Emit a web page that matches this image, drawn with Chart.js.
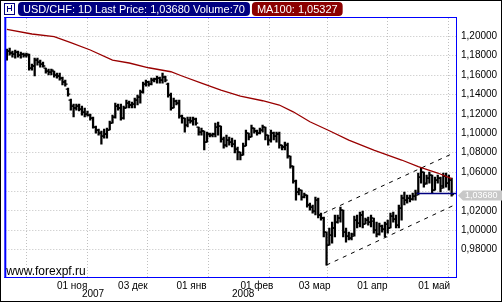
<!DOCTYPE html>
<html>
<head>
<meta charset="utf-8">
<script src="https://cdn.jsdelivr.net/npm/chart.js@4.4.0/dist/chart.umd.min.js"></script>
<style>
  html, body { margin: 0; padding: 0; background: #fff; }
  canvas { display: block; }
</style>
</head>
<body>
<canvas id="chart" width="502" height="302"></canvas>
<script>
// USD/CHF daily bars, one entry per trading day (index 0 = 8 Oct 2007)
const openPrices = [
  1.1807, 1.1848, 1.1828, 1.1817, 1.1838, 1.1807, 1.1817, 1.1807, 1.1807, 1.1673,
  1.1694, 1.1755, 1.1735, 1.1714, 1.1673, 1.1642, 1.1632, 1.1642, 1.1601, 1.1591,
  1.1570, 1.1529, 1.1456, 1.1343, 1.1281, 1.1261, 1.1281, 1.1250, 1.1219, 1.1199,
  1.1188, 1.1157, 1.1065, 1.1034, 1.1003, 1.0972, 1.0993, 1.1034, 1.1106, 1.1168,
  1.1281, 1.1261, 1.1157, 1.1261, 1.1312, 1.1292, 1.1302, 1.1343, 1.1374, 1.1426,
  1.1508, 1.1529, 1.1508, 1.1549, 1.1560, 1.1570, 1.1549, 1.1580, 1.1508, 1.1395,
  1.1261, 1.1333, 1.1312, 1.1178, 1.1157, 1.1085, 1.1137, 1.1127, 1.1147, 1.1065,
  1.1013, 1.1024, 1.0910, 1.0993, 1.0982, 1.0993, 1.1065, 1.1075, 1.0941, 1.0879,
  1.0931, 1.0910, 1.0889, 1.0838, 1.0807, 1.0776, 1.0869, 1.1003, 1.0962, 1.1054,
  1.1024, 1.1003, 1.1034, 1.1065, 1.0982, 1.0931, 1.1003, 1.0972, 1.0993, 1.0879,
  1.0859, 1.0879, 1.0766, 1.0663, 1.0508, 1.0395, 1.0415, 1.0343, 1.0364, 1.0261,
  1.0240, 1.0199, 1.0312, 1.0158, 1.0127, 0.9982, 0.9848, 0.9951, 1.0024, 1.0085,
  1.0127, 1.0209, 0.9982, 0.9941, 0.9920, 0.9962, 1.0106, 1.0075, 1.0158, 1.0065,
  1.0106, 1.0085, 1.0096, 1.0003, 0.9962, 1.0044, 1.0013, 1.0065, 1.0024, 1.0147,
  1.0116, 1.0054, 1.0230, 1.0333, 1.0312, 1.0333, 1.0322, 1.0353, 1.0384, 1.0549,
  1.0601, 1.0487, 1.0539, 1.0570, 1.0415, 1.0518, 1.0539, 1.0457, 1.0560, 1.0487,
  1.0518
];
const highPrices = [
  1.1869, 1.1879, 1.1848, 1.1858, 1.1848, 1.1838, 1.1828, 1.1828, 1.1817, 1.1714,
  1.1776, 1.1776, 1.1755, 1.1735, 1.1673, 1.1663, 1.1663, 1.1642, 1.1621, 1.1621,
  1.1580, 1.1549, 1.1467, 1.1353, 1.1302, 1.1302, 1.1302, 1.1281, 1.1261, 1.1230,
  1.1199, 1.1168, 1.1075, 1.1044, 1.1024, 1.1044, 1.1054, 1.1127, 1.1188, 1.1312,
  1.1302, 1.1302, 1.1281, 1.1343, 1.1333, 1.1322, 1.1364, 1.1395, 1.1446, 1.1529,
  1.1549, 1.1539, 1.1570, 1.1570, 1.1591, 1.1580, 1.1621, 1.1591, 1.1518, 1.1415,
  1.1364, 1.1343, 1.1343, 1.1188, 1.1157, 1.1168, 1.1168, 1.1168, 1.1157, 1.1065,
  1.1054, 1.1024, 1.1013, 1.1003, 1.1003, 1.1106, 1.1116, 1.1075, 1.0962, 1.0982,
  1.0962, 1.0951, 1.0931, 1.0859, 1.0807, 1.0900, 1.1034, 1.1003, 1.1085, 1.1054,
  1.1034, 1.1054, 1.1085, 1.1065, 1.0982, 1.1034, 1.1013, 1.1013, 1.1013, 1.0879,
  1.0910, 1.0900, 1.0766, 1.0663, 1.0518, 1.0436, 1.0415, 1.0384, 1.0364, 1.0281,
  1.0261, 1.0343, 1.0333, 1.0178, 1.0137, 0.9982, 1.0024, 1.0085, 1.0158, 1.0158,
  1.0240, 1.0209, 1.0024, 0.9982, 0.9972, 1.0147, 1.0158, 1.0188, 1.0199, 1.0127,
  1.0137, 1.0158, 1.0127, 1.0085, 1.0075, 1.0054, 1.0085, 1.0106, 1.0178, 1.0188,
  1.0158, 1.0261, 1.0364, 1.0395, 1.0364, 1.0364, 1.0384, 1.0415, 1.0590, 1.0642,
  1.0601, 1.0570, 1.0601, 1.0570, 1.0549, 1.0570, 1.0549, 1.0590, 1.0590, 1.0570,
  1.0539
];
const lowPrices = [
  1.1755, 1.1807, 1.1786, 1.1776, 1.1786, 1.1776, 1.1786, 1.1786, 1.1652, 1.1652,
  1.1591, 1.1704, 1.1683, 1.1683, 1.1621, 1.1601, 1.1601, 1.1580, 1.1570, 1.1549,
  1.1498, 1.1487, 1.1384, 1.1240, 1.1168, 1.1240, 1.1230, 1.1188, 1.1168, 1.1178,
  1.1137, 1.1054, 1.1003, 1.0982, 1.0889, 1.0951, 1.0951, 1.1034, 1.1106, 1.1157,
  1.1240, 1.1137, 1.1147, 1.1261, 1.1261, 1.1261, 1.1261, 1.1292, 1.1312, 1.1415,
  1.1487, 1.1487, 1.1498, 1.1529, 1.1518, 1.1518, 1.1518, 1.1529, 1.1374, 1.1240,
  1.1261, 1.1292, 1.1157, 1.1106, 1.1013, 1.1065, 1.1106, 1.1085, 1.1085, 1.0982,
  1.0982, 1.0828, 1.0910, 1.0962, 1.0962, 1.0962, 1.0982, 1.0910, 1.0848, 1.0859,
  1.0879, 1.0859, 1.0797, 1.0725, 1.0725, 1.0776, 1.0869, 1.0931, 1.0962, 1.1003,
  1.0982, 1.0993, 1.1013, 1.0931, 1.0879, 1.0910, 1.0931, 1.0910, 1.0848, 1.0828,
  1.0828, 1.0745, 1.0642, 1.0487, 1.0312, 1.0364, 1.0312, 1.0333, 1.0240, 1.0209,
  1.0178, 1.0158, 1.0127, 1.0106, 0.9931, 0.9642, 0.9848, 0.9869, 0.9931, 1.0075,
  1.0085, 0.9931, 0.9879, 0.9900, 0.9900, 0.9941, 1.0024, 1.0034, 1.0024, 1.0065,
  1.0054, 1.0034, 0.9972, 0.9931, 0.9951, 0.9982, 0.9931, 0.9972, 1.0024, 1.0085,
  1.0024, 1.0024, 1.0106, 1.0261, 1.0281, 1.0292, 1.0312, 1.0312, 1.0364, 1.0487,
  1.0446, 1.0477, 1.0487, 1.0384, 1.0415, 1.0487, 1.0395, 1.0436, 1.0446, 1.0415,
  1.0353
];
const closePrices = [
  1.1848, 1.1828, 1.1817, 1.1838, 1.1807, 1.1817, 1.1807, 1.1817, 1.1673, 1.1694,
  1.1755, 1.1735, 1.1714, 1.1694, 1.1642, 1.1632, 1.1652, 1.1601, 1.1591, 1.1570,
  1.1529, 1.1508, 1.1405, 1.1281, 1.1261, 1.1281, 1.1250, 1.1219, 1.1199, 1.1188,
  1.1157, 1.1065, 1.1034, 1.1003, 1.0972, 1.0993, 1.1034, 1.1106, 1.1168, 1.1281,
  1.1261, 1.1157, 1.1261, 1.1312, 1.1292, 1.1302, 1.1343, 1.1374, 1.1426, 1.1508,
  1.1529, 1.1508, 1.1549, 1.1560, 1.1570, 1.1549, 1.1580, 1.1549, 1.1395, 1.1261,
  1.1333, 1.1312, 1.1178, 1.1157, 1.1085, 1.1137, 1.1127, 1.1147, 1.1106, 1.1013,
  1.1024, 1.0910, 1.0993, 1.0982, 1.0993, 1.1065, 1.1075, 1.0941, 1.0879, 1.0931,
  1.0910, 1.0889, 1.0838, 1.0807, 1.0776, 1.0869, 1.1003, 1.0962, 1.1054, 1.1024,
  1.1003, 1.1034, 1.1065, 1.0982, 1.0931, 1.1003, 1.0972, 1.0993, 1.0879, 1.0859,
  1.0879, 1.0766, 1.0663, 1.0508, 1.0395, 1.0415, 1.0343, 1.0364, 1.0261, 1.0240,
  1.0199, 1.0312, 1.0158, 1.0127, 0.9982, 0.9848, 0.9951, 1.0024, 1.0085, 1.0127,
  1.0209, 0.9982, 0.9941, 0.9920, 0.9941, 1.0106, 1.0075, 1.0158, 1.0065, 1.0106,
  1.0085, 1.0127, 1.0003, 0.9962, 1.0044, 1.0013, 1.0065, 1.0024, 1.0147, 1.0116,
  1.0054, 1.0230, 1.0333, 1.0312, 1.0333, 1.0322, 1.0353, 1.0364, 1.0549, 1.0601,
  1.0477, 1.0539, 1.0570, 1.0415, 1.0518, 1.0539, 1.0436, 1.0560, 1.0487, 1.0518,
  1.0368
];

// MA100 at these bar indices
const maIndex  = [0, 9, 17, 23, 30, 38, 44, 51, 59, 63, 70, 77, 84, 92, 98, 103, 109, 116, 123, 132, 142, 148, 155, 160];
const maValues = [1.2072, 1.2024, 1.1996, 1.1934, 1.1859, 1.1755, 1.1725, 1.1676, 1.1635, 1.1591, 1.1518, 1.1446,
                  1.1384, 1.1336, 1.1292, 1.1222, 1.1119, 1.1027, 1.0931, 1.0828, 1.0725, 1.0656, 1.0591, 1.0533];
const maLatest = 1.05327;
const volume = 70;

// hand-drawn channel and support line (bar index / price)
const channelUpperIdx = [114, 160.5];
const channelUpper = [1.0178, 1.0794];
const channelLowerIdx = [115, 161];
const channelLower = [0.9642, 1.0261];
const supportIdx = [147.5, 161.6];
const support = [1.0381, 1.0381];

// date axis
const tickIndex  = [18, 40, 61, 84, 105, 126, 148];
const tickLabels = ['01 ноя', '03 дек', '01 янв', '01 фев', '03 мар', '01 апр', '01 май'];
const yearLabels = ['2007', '2008'];
const yearIndex  = [31, 85];

// price axis
const priceMin = 0.9519;
const priceMax = 1.2189;
const priceStep = 0.02;
const priceLabelFrom = 0.98;
const priceLabelTo = 1.20;

const lastPrice = closePrices[closePrices.length - 1];
const fmt = (v) => v.toFixed(5).replace('.', ',');
const titleText = 'USD/CHF: 1D Last Price: ' + fmt(lastPrice) + ' Volume:' + volume;
const maText = 'MA100: ' + fmt(maLatest);

const FONT = '"Liberation Sans", Arial, sans-serif';

function points(xs, ys) {
    return xs.map((x, i) => ({ x, y: ys[i] }));
}

function roundBox(ctx, x, y, w, h, r) {
    ctx.beginPath();
    ctx.moveTo(x + r, y);
    ctx.lineTo(x + w - r, y);
    ctx.quadraticCurveTo(x + w, y, x + w, y + r);
    ctx.lineTo(x + w, y + h - r);
    ctx.quadraticCurveTo(x + w, y + h, x + w - r, y + h);
    ctx.lineTo(x + r, y + h);
    ctx.quadraticCurveTo(x, y + h, x, y + h - r);
    ctx.lineTo(x, y + r);
    ctx.quadraticCurveTo(x, y, x + r, y);
    ctx.closePath();
}

// frame, header badges, year row, watermark and last price tag
const chromePlugin = {
    id: 'chrome',
    beforeDraw(chart) {
        const ctx = chart.ctx;
        ctx.save();
        ctx.fillStyle = '#ffffff';
        ctx.fillRect(0, 0, chart.width, chart.height);
        ctx.restore();
    },
    afterDraw(chart) {
        const { ctx, chartArea: a, scales } = chart;
        ctx.save();

        // plot frame
        ctx.fillStyle = '#0000ff';
        ctx.fillRect(a.left - 1, a.top - 1, a.right - a.left + 2, 1);
        ctx.fillRect(a.left - 1, a.bottom, a.right - a.left + 2, 1);
        ctx.fillRect(a.left - 1, a.top - 1, 2, a.bottom - a.top + 2);
        ctx.fillRect(a.right, a.top - 1, 1, a.bottom - a.top + 2);

        // outer border
        ctx.strokeStyle = '#000000';
        ctx.lineWidth = 1;
        ctx.strokeRect(0.5, 0.5, chart.width - 1, chart.height - 1);

        // icon
        ctx.fillStyle = '#ffffff';
        ctx.fillRect(4, 3, 11, 12);
        ctx.strokeStyle = '#000080';
        ctx.strokeRect(4.5, 3.5, 10, 11);
        ctx.beginPath();
        ctx.moveTo(7.5, 6); ctx.lineTo(7.5, 12);
        ctx.moveTo(11.5, 5); ctx.lineTo(11.5, 11);
        ctx.moveTo(7.5, 8.5); ctx.lineTo(11.5, 8.5);
        ctx.stroke();

        // header badges
        ctx.font = '11px ' + FONT;
        ctx.textBaseline = 'middle';
        const tw = ctx.measureText(titleText).width;
        ctx.fillStyle = '#000080';
        roundBox(ctx, 18, 2, tw + 10, 14, 4);
        ctx.fill();
        ctx.fillStyle = '#ffffff';
        ctx.fillText(titleText, 23, 9.5);

        const mx = 18 + tw + 12;
        const mw = ctx.measureText(maText).width;
        ctx.fillStyle = '#8b0000';
        roundBox(ctx, mx, 2, mw + 10, 14, 4);
        ctx.fill();
        ctx.fillStyle = '#ffffff';
        ctx.fillText(maText, mx + 5, 9.5);

        // year row
        ctx.font = '10px ' + FONT;
        ctx.fillStyle = '#000000';
        ctx.textAlign = 'center';
        yearLabels.forEach((label, i) => {
            ctx.fillText(label, scales.x.getPixelForValue(yearIndex[i]), 294.5);
        });

        // watermark
        ctx.textAlign = 'left';
        ctx.textBaseline = 'alphabetic';
        ctx.font = '12px ' + FONT;
        ctx.fillText('www.forexpf.ru', a.left + 1, a.bottom - 2);

        // last price tag on the price axis
        const py = Math.round(scales.y.getPixelForValue(lastPrice)) + 0.5;
        const tx = a.right + 2;
        ctx.fillStyle = '#c8c8c8';
        ctx.beginPath();
        ctx.moveTo(tx, py);
        ctx.lineTo(tx + 5, py - 5);
        ctx.lineTo(chart.width, py - 5);
        ctx.lineTo(chart.width, py + 5);
        ctx.lineTo(tx + 5, py + 5);
        ctx.closePath();
        ctx.fill();
        ctx.fillStyle = '#ffffff';
        ctx.font = '9px ' + FONT;
        ctx.textBaseline = 'middle';
        ctx.fillText(fmt(lastPrice), tx + 7, py);

        ctx.restore();
    }
};

const ctx = document.getElementById('chart').getContext('2d');

new Chart(ctx, {
    type: 'line',
    data: {
        datasets: [
            {
                label: 'MA100',
                data: points(maIndex, maValues),
                borderColor: '#990000',
                borderWidth: 1.3,
                pointRadius: 0,
                tension: 0
            },
            {
                label: 'support',
                data: points(supportIdx, support),
                borderColor: '#000080',
                borderWidth: 1.5,
                pointRadius: 0
            },
            {
                label: 'channel upper',
                data: points(channelUpperIdx, channelUpper),
                borderColor: '#000000',
                borderWidth: 1,
                borderDash: [4, 5],
                pointRadius: 0
            },
            {
                label: 'channel lower',
                data: points(channelLowerIdx, channelLower),
                borderColor: '#000000',
                borderWidth: 1,
                borderDash: [4, 5],
                pointRadius: 0
            },
            {
                label: 'open',
                data: openPrices.map((v, i) => ({ x: i, y: v })),
                showLine: false,
                pointStyle: 'dash',
                pointRadius: 2.3,
                pointRotation: 180,
                pointBorderWidth: 1.3,
                pointBorderColor: '#000000',
                pointBackgroundColor: '#000000'
            },
            {
                label: 'close',
                data: closePrices.map((v, i) => ({ x: i, y: v })),
                showLine: false,
                pointStyle: 'dash',
                pointRadius: 2.3,
                pointBorderWidth: 1.3,
                pointBorderColor: '#000000',
                pointBackgroundColor: '#000000'
            },
            {
                type: 'bar',
                label: 'range',
                data: highPrices.map((h, i) => ({ x: i, y: [lowPrices[i], h] })),
                backgroundColor: '#000000',
                borderWidth: 0,
                barThickness: 1.6
            }
        ]
    },
    options: {
        responsive: false,
        devicePixelRatio: 1,
        animation: false,
        events: [],
        layout: { padding: { left: 2, top: 18, right: 0, bottom: 0 } },
        plugins: {
            legend: { display: false },
            tooltip: { enabled: false }
        },
        scales: {
            x: {
                type: 'linear',
                offset: false,
                min: -0.57,
                max: 161.57,
                afterBuildTicks: (scale) => {
                    scale.ticks = tickIndex.map(v => ({ value: v }));
                },
                afterFit: (scale) => { scale.height = 25; },
                grid: { color: '#c0c0c0', drawTicks: false },
                border: { display: false, dash: [1, 2] },
                ticks: {
                    autoSkip: false,
                    maxRotation: 0,
                    align: 'start',
                    padding: 3,
                    color: '#000000',
                    font: { family: FONT, size: 10 },
                    callback: (value) => {
                        const k = tickIndex.indexOf(value);
                        return k >= 0 ? tickLabels[k] : '';
                    }
                }
            },
            y: {
                type: 'linear',
                position: 'right',
                min: priceMin,
                max: priceMax,
                afterBuildTicks: (scale) => {
                    scale.ticks = scale.ticks.filter(t => t.value > priceLabelFrom - 0.001 && t.value < priceLabelTo + 0.001);
                },
                afterFit: (scale) => { scale.width = 46; },
                grid: { color: '#c0c0c0', drawTicks: false },
                border: { display: false, dash: [1, 2] },
                ticks: {
                    stepSize: priceStep,
                    includeBounds: false,
                    padding: 5,
                    color: '#000000',
                    font: { family: FONT, size: 10 },
                    callback: (value) => {
                        if (Math.abs(value - lastPrice) < 0.006) return '';
                        return fmt(value);
                    }
                }
            }
        }
    },
    plugins: [chromePlugin]
});
</script>
</body>
</html>
